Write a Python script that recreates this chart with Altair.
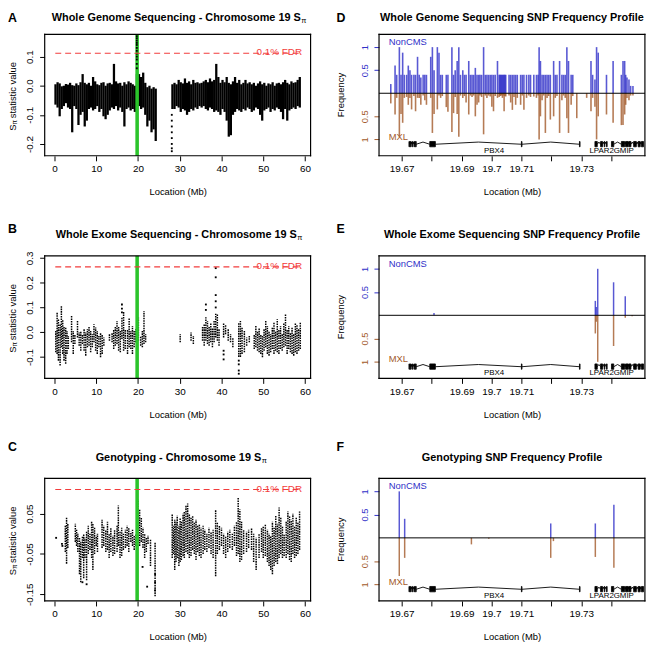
import altair as alt
import pandas as pd

FONT = "Liberation Sans"
BLUE = "#3030c8"
BROWN = "#a25a2a"
GREEN = "#2bc42b"
RED = "#f23c3c"
W = 269

# ---------------- chromosome-wide panels (A, B, C) ----------------
CHR_TICKS = [0, 10, 20, 30, 40, 50, 60]
CHR_DOMAIN = [-2.36, 61.36]
PBX4_MB = 19.8
FDR_START = 0.2
FDR_END = 59.3
FDR_LABEL = "0.1% FDR"

A_x = [0.25, 0.75, 1.25, 1.75, 2.25, 2.75, 3.25, 3.75, 4.25, 4.75, 5.25, 5.75, 6.25, 6.75,
       7.25, 7.75, 8.25, 8.75, 9.25, 9.75, 10.25, 10.75, 11.25, 11.75, 12.25, 12.75, 13.25,
       13.75, 14.25, 14.75, 15.25, 15.75, 16.25, 16.75, 17.25, 17.75, 18.25, 18.75, 19.25,
       19.75, 20.25, 20.75, 21.25, 21.75, 22.25, 22.75, 23.25, 23.75, 24.25,
       28.25, 28.75, 29.25, 29.75, 30.25, 30.75, 31.25, 31.75, 32.25, 32.75, 33.25, 33.75,
       34.25, 34.75, 35.25, 35.75, 36.25, 36.75, 37.25, 37.75, 38.25, 38.75, 39.25, 39.75,
       40.25, 40.75, 41.25, 41.75, 42.25, 42.75, 43.25, 43.75, 44.25, 44.75, 45.25, 45.75,
       46.25, 46.75, 47.25, 47.75, 48.25, 48.75, 49.25, 49.75, 50.25, 50.75, 51.25, 51.75,
       52.25, 52.75, 53.25, 53.75, 54.25, 54.75, 55.25, 55.75, 56.25, 56.75, 57.25, 57.75,
       58.25, 58.75]
A_hi = [0.005, 0.012, 0.008, -0.002, 0.0, 0.006, 0.004, 0.01, 0.002, 0.0, 0.008, 0.002, 0.012,
        0.04, 0.01, 0.005, 0.01, 0.0, 0.03, 0.015, 0.005, 0.002, 0.01, 0.012, 0.0, 0.008, 0.01,
        0.005, 0.075, 0.015, 0.008, 0.01, 0.0, 0.012, 0.005, 0.015, 0.01, 0.005, 0.0, 0.04,
        0.04, 0.03, 0.045, 0.01, -0.005, 0.0, -0.01, -0.005, -0.01,
        0.005, 0.01, 0.005, 0.02, 0.012, 0.008, 0.025, 0.01, 0.015, 0.005, 0.02, 0.01, 0.012,
        0.008, 0.01, 0.015, 0.02, 0.012, 0.025, 0.015, 0.02, 0.075, 0.03, 0.01, 0.02, 0.012,
        0.03, 0.01, 0.005, 0.015, 0.03, 0.01, 0.02, 0.005, 0.01, 0.02, 0.008, 0.012, 0.005,
        0.01, 0.0, 0.008, 0.015, 0.005, 0.01, 0.0, 0.008, 0.005, 0.012, 0.0, 0.008, 0.01,
        0.005, 0.012, 0.02, 0.01, 0.005, 0.015, 0.01, 0.012, 0.02, 0.03]
A_lo = [-0.065, -0.075, -0.105, -0.08, -0.07, -0.06, -0.075, -0.08, -0.16, -0.07, -0.08, -0.135,
        -0.10, -0.09, -0.14, -0.12, -0.08, -0.075, -0.085, -0.08, -0.07, -0.09, -0.08, -0.105,
        -0.115, -0.10, -0.085, -0.075, -0.08, -0.07, -0.085, -0.075, -0.09, -0.14, -0.08,
        -0.075, -0.085, -0.08, -0.09, -0.08, -0.07, -0.08, -0.075, -0.10, -0.14, -0.12, -0.16,
        -0.15, -0.19,
        -0.08, -0.08, -0.07, -0.075, -0.09, -0.08, -0.085, -0.10, -0.09, -0.08, -0.085, -0.075,
        -0.08, -0.07, -0.075, -0.07, -0.08, -0.085, -0.075, -0.08, -0.09, -0.085, -0.09, -0.10,
        -0.08, -0.09, -0.12, -0.175, -0.17, -0.10, -0.09, -0.08, -0.085, -0.09, -0.08, -0.085,
        -0.075, -0.08, -0.09, -0.085, -0.075, -0.08, -0.10, -0.12, -0.085, -0.08, -0.075, -0.09,
        -0.08, -0.085, -0.075, -0.08, -0.09, -0.115, -0.08, -0.12, -0.085, -0.08, -0.075, -0.08,
        -0.07, -0.075]
A_pt_x = [28.1, 28.1, 28.1, 28.1, 28.1, 28.1, 28.1, 28.1,
          19.72, 19.72, 19.72, 19.72, 19.72, 19.72, 19.72, 19.72, 19.72, 19.72, 19.72, 19.72]
A_pt_y = [-0.10, -0.12, -0.14, -0.16, -0.18, -0.20, -0.215, -0.225,
          0.17, 0.163, 0.155, 0.147, 0.14, 0.13, 0.12, 0.11, 0.10, 0.09, 0.075, 0.06]

B_x = [0.32, 0.64, 0.95, 1.35, 1.66, 1.98, 2.29, 2.69, 3.0, 3.32, 4.1, 4.5, 4.89, 5.52, 5.92,
       6.31, 6.7, 7.1, 7.49, 7.89, 8.28, 8.67, 9.07, 9.46, 9.86, 10.25, 10.64, 11.04, 11.43,
       11.83, 13.17, 13.8, 14.19, 14.58, 14.98, 15.37, 15.77, 16.16, 16.56, 16.95, 17.5, 17.89,
       18.29, 18.68, 19.08, 19.47, 20.1, 20.65, 21.05, 21.44, 21.83, 30.11, 32.71, 33.26,
       35.47, 35.86, 36.26, 36.65, 37.04, 37.44, 37.83, 38.23, 38.62, 39.01, 39.41, 40.51,
       40.98, 41.61, 42.17, 42.72, 44.14, 44.53, 44.92, 45.48, 46.03, 46.66, 47.84, 48.23,
       48.63, 49.02, 49.42, 49.81, 50.2, 50.6, 50.99, 51.39, 51.78, 52.17, 52.57, 52.96, 53.36,
       53.75, 54.14, 54.54, 54.93, 55.33, 55.72, 56.11, 56.51, 56.9, 57.3, 57.69, 58.08, 58.48,
       58.87]
B_lo = [-0.081, -0.088, -0.115, -0.135, -0.061, -0.088, -0.115, -0.128, -0.088, -0.068, -0.041,
        -0.088, -0.048, -0.021, -0.055, -0.075, -0.048, -0.075, -0.095, -0.061, -0.055, -0.081,
        -0.061, -0.041, -0.075, -0.088, -0.061, -0.101, -0.088, -0.055, -0.035, -0.041, -0.068,
        -0.055, -0.048, -0.075, -0.081, -0.028, -0.075, -0.068, -0.088, -0.061, -0.068, -0.088,
        -0.061, -0.041, -0.035, -0.055, -0.061, -0.048, -0.041, -0.041, -0.035, -0.048, -0.035,
        -0.055, -0.035, -0.048, -0.055, -0.041, -0.061, -0.041, -0.021, -0.035, -0.055, -0.021,
        -0.008, -0.035, -0.041, -0.061, -0.100, -0.100, -0.088, -0.081, -0.055, -0.041, -0.068,
        -0.061, -0.075, -0.081, -0.088, -0.101, -0.075, -0.061, -0.088, -0.095, -0.081, -0.068,
        -0.088, -0.075, -0.081, -0.088, -0.068, -0.075, -0.061, -0.055, -0.088, -0.068, -0.081,
        -0.088, -0.095, -0.081, -0.088, -0.075, -0.068]
B_hi = [0.005, 0.079, 0.052, 0.032, 0.105, 0.052, 0.025, 0.019, 0.005, -0.015, 0.065, 0.005,
        -0.008, 0.045, -0.001, 0.005, -0.008, 0.012, -0.001, 0.012, 0.025, 0.005, -0.008, 0.032,
        0.019, 0.005, -0.015, -0.001, -0.008, -0.021, -0.008, -0.001, 0.012, 0.025, 0.045, 0.025,
        0.005, 0.06, 0.085, 0.012, 0.012, 0.059, 0.005, 0.025, 0.005, 0.012, 0.059, -0.015, 0.005,
        0.085, -0.008, -0.008, -0.001, -0.015, 0.025, 0.032, 0.06, 0.045, 0.025, 0.039, 0.019,
        0.045, 0.075, 0.072, 0.012, 0.039, 0.032, 0.012, -0.008, -0.021, 0.039, 0.045, 0.019,
        0.005, -0.021, -0.015, -0.008, 0.025, 0.005, 0.019, -0.008, -0.015, 0.012, 0.045, 0.025,
        0.005, -0.008, 0.019, 0.039, 0.005, 0.052, 0.012, 0.025, -0.008, 0.039, 0.072, 0.012,
        0.025, -0.001, 0.019, -0.008, 0.039, 0.032, 0.012, 0.039]
B_pt_x = [38.62, 38.62, 38.62, 38.62, 38.62, 16.16, 16.16, 16.16, 36.26, 36.26,
          44.14, 44.14, 44.14, 44.14, 40.51, 40.51, 40.51]
B_pt_y = [0.259, 0.222, 0.15, 0.125, 0.10, 0.112, 0.095, 0.08, 0.112, 0.09,
          -0.115, -0.13, -0.155, -0.168, -0.075, -0.09, -0.11]

C_x = [2.6, 2.9, 3.2, 5.0, 5.3, 5.6, 6.0, 6.3, 6.7, 7.0, 7.3, 7.7, 8.1, 8.5, 8.9, 9.2, 9.6,
       10.0, 10.3, 11.4, 11.8, 12.3, 12.7, 13.1, 13.5, 14.0, 14.4, 15.0, 15.3, 15.7, 16.1, 16.5,
       17.0, 17.4, 17.8, 18.3, 18.7, 19.1, 19.5, 20.0, 20.4, 20.8, 21.2, 21.6, 22.0, 22.4, 23.0,
       24.1, 28.2, 28.5, 28.8, 29.1, 29.4, 29.8, 30.1, 30.4, 30.8, 31.1, 31.5, 31.9, 32.3, 32.7,
       33.1, 33.5, 33.9, 34.3, 34.7, 35.1, 35.6, 36.0, 36.5, 37.0, 37.5, 38.0, 38.6, 39.0, 39.5,
       40.0, 40.5, 41.0, 41.5, 42.0, 42.6, 43.1, 43.6, 44.0, 44.4, 44.8, 45.3, 46.0, 46.5, 47.2,
       47.7, 48.3, 49.0, 49.6, 50.0, 50.5, 51.0, 51.4, 51.8, 52.2, 52.6, 53.0, 53.4, 53.8, 54.2,
       54.6, 55.0, 55.5, 55.9, 56.3, 56.7, 57.1, 57.5, 57.9, 58.3, 58.7]
C_lo = [-0.045, -0.074, -0.035, -0.02, -0.03, -0.045, -0.10, -0.12, -0.06, -0.11, -0.06, -0.115,
        -0.05, -0.04, -0.06, -0.09, -0.05, -0.03, -0.045, -0.035, -0.03, -0.045, -0.04, -0.06,
        -0.045, -0.055, -0.05, -0.045, -0.03, -0.06, -0.055, -0.04, -0.035, -0.03, -0.045, -0.02,
        -0.03, -0.04, -0.03, -0.02, -0.03, -0.02, -0.035, -0.06, -0.045, -0.025, -0.08, -0.155,
        -0.06, -0.05, -0.09, -0.07, -0.06, -0.08, -0.07, -0.065, -0.055, -0.06, -0.045, -0.05,
        -0.06, -0.055, -0.04, -0.05, -0.065, -0.045, -0.055, -0.06, -0.05, -0.04, -0.045, -0.035,
        -0.05, -0.06, -0.105, -0.05, -0.04, -0.03, -0.05, -0.06, -0.045, -0.035, -0.04, -0.03,
        -0.055, -0.05, -0.07, -0.065, -0.05, -0.045, -0.035, -0.04, -0.07, -0.09, -0.06, -0.045,
        -0.06, -0.055, -0.07, -0.08, -0.09, -0.10, -0.08, -0.07, -0.075, -0.06, -0.05, -0.06,
        -0.055, -0.06, -0.05, -0.065, -0.07, -0.05, -0.06, -0.055, -0.05, -0.04]
C_hi = [0.02, 0.04, 0.025, 0.025, 0.01, 0.0, -0.01, -0.02, -0.005, 0.0, -0.01, 0.005, 0.02, 0.0,
        0.03, 0.025, 0.015, -0.005, 0.0, 0.035, 0.02, 0.01, 0.03, 0.0, 0.015, -0.005, 0.01, 0.02,
        0.07, 0.005, 0.015, 0.0, 0.01, 0.02, 0.015, 0.005, 0.01, -0.005, 0.0, 0.085, 0.06, 0.04,
        0.015, 0.0, -0.01, -0.005, -0.015, -0.02, 0.05, 0.02, 0.035, 0.03, 0.045, 0.02, 0.04,
        0.03, 0.05, 0.055, 0.07, 0.075, 0.05, 0.04, 0.045, 0.03, 0.035, 0.02, 0.025, 0.015, 0.02,
        0.01, 0.0, 0.015, 0.005, 0.01, 0.06, 0.03, 0.02, 0.015, 0.0, -0.005, 0.005, 0.01, 0.0,
        0.02, 0.03, 0.09, 0.06, 0.03, 0.01, 0.005, 0.01, 0.015, 0.0, -0.01, 0.0, 0.015, 0.02,
        0.025, 0.01, 0.0, -0.005, 0.03, 0.015, 0.045, 0.025, 0.065, 0.04, 0.02, 0.0, 0.03, 0.055,
        0.045, 0.035, 0.05, 0.02, 0.04, 0.03, 0.055]
C_pt_x = [0.4, 1.8, 1.9, 22.2, 21.1, 6.7, 7.7, 24.1, 24.1, 24.1]
C_pt_y = [-0.01, -0.025, -0.03, -0.131, -0.082, -0.12, -0.125, -0.14, -0.12, -0.10]

# ---------------- SNP frequency profiles (D, E, F) ----------------
REG_DOMAIN = [19.6624, 19.7513]
REG_TICKS = [19.67, 19.68, 19.69, 19.70, 19.71, 19.72, 19.73, 19.74]
REG_LABELS = ["19.67", "19.69", "19.7", "19.71", "19.73"]
FREQ_TICKS = [-1, -0.5, 0.5, 1]
FREQ_DOMAIN = [-1.357, 1.28]

D_pos = [19.66636, 19.66779, 19.66834, 19.66923, 19.66978, 19.67033, 19.67088, 19.67166,
         19.67221, 19.67276, 19.67331, 19.67408, 19.67464, 19.67530, 19.67585, 19.67640,
         19.67717, 19.67773, 19.67828, 19.67971, 19.68026, 19.68082, 19.68192, 19.68247,
         19.68302, 19.68358, 19.68490, 19.68545, 19.68678, 19.68733, 19.68788, 19.68854,
         19.68909, 19.68965, 19.69042, 19.69097, 19.69152, 19.69241, 19.69296, 19.69351,
         19.69406, 19.69461, 19.69517, 19.69572, 19.69616, 19.69671, 19.69737, 19.69793,
         19.69848, 19.69903, 19.69958, 19.70013, 19.70068, 19.70124, 19.70201, 19.70256,
         19.70284, 19.70311, 19.70339, 19.70366, 19.70394, 19.70422, 19.70449, 19.70477,
         19.70587, 19.70642, 19.70698, 19.70753, 19.70808, 19.70863, 19.70974, 19.71029,
         19.71084, 19.71172, 19.71249, 19.71305, 19.71415, 19.71503, 19.71558, 19.71592,
         19.71636, 19.71691, 19.71746, 19.71801, 19.71857, 19.71912, 19.71967, 19.72077,
         19.72132, 19.72188, 19.72276, 19.72353, 19.72408, 19.72464, 19.72519, 19.72574,
         19.72662, 19.72717, 19.72850, 19.73181, 19.73325, 19.73380, 19.73457, 19.73512,
         19.73567, 19.73843, 19.74064, 19.74340, 19.74395, 19.74450, 19.74484, 19.74528,
         19.74594, 19.74650, 19.74727]
D_noncms = [0.20, 0.60, 0.40, 1.00, 0.40, 0.88, 0.40, 0.40, 0.60, 0.50, 0.40, 0.40, 0.40, 0.79,
            0.40, 0.34, 0.40, 0.40, 0.40, 0.79, 1.00, 0.50, 1.00, 0.88, 0.40, 0.40, 0.40, 0.40,
            1.00, 0.40, 0.50, 0.70, 1.00, 0.40, 0.50, 0.40, 0.40, 0.70, 0.40, 0.40, 0.40, 0.55,
            0.40, 0.40, 0.40, 0.40, 1.00, 0.40, 0.40, 0.40, 0.40, 0.40, 0.40, 0.40, 0.70, 0.40,
            0.40, 0.40, 0.40, 0.40, 0.40, 0.40, 0.40, 0.40, 0.40, 0.40, 0.40, 0.40, 0.40, 0.40,
            0.40, 0.40, 0.40, 0.40, 0.40, 0.40, 0.40, 0.40, 0.40, 1.00, 0.70, 0.40, 0.40, 0.40,
            0.40, 0.40, 0.40, 0.70, 0.40, 0.40, 0.70, 0.40, 0.40, 0.40, 1.00, 0.70, 0.40, 0.40,
            0.00, 0.00, 0.70, 0.40, 0.30, 1.00, 0.88, 0.40, 0.70, 0.40, 0.70, 0.70, 0.40, 0.34,
            0.30, 0.16, 0.16]
D_mxl = [0.22, 0.46, 0.10, 0.93, 0.45, 0.64, 0.10, 0.08, 0.25, 0.10, 0.35, 0.06, 0.39, 0.10,
         0.10, 0.25, 0.05, 0.15, 0.25, 0.10, 0.86, 0.45, 0.35, 0.05, 0.10, 0.06, 0.30, 0.40,
         0.84, 0.43, 0.08, 0.45, 0.94, 0.05, 0.10, 0.06, 0.20, 0.46, 0.05, 0.08, 0.05, 0.50,
         0.25, 0.20, 0.05, 0.08, 0.89, 0.05, 0.10, 0.05, 0.07, 0.29, 0.39, 0.06, 0.10, 0.08,
         0.05, 0.06, 0.04, 0.10, 0.05, 0.39, 0.06, 0.07, 0.05, 0.20, 0.36, 0.08, 0.25, 0.10,
         0.25, 0.05, 0.36, 0.10, 0.05, 0.08, 0.07, 0.10, 0.05, 1.00, 0.50, 0.15, 0.05, 0.86,
         0.10, 0.06, 0.57, 0.50, 0.10, 0.06, 0.86, 0.15, 0.05, 0.10, 0.54, 0.86, 0.25, 0.06,
         0.54, 0.10, 0.39, 0.10, 0.29, 1.00, 0.50, 0.46, 0.64, 0.69, 0.69, 0.46, 0.25, 0.10,
         0.15, 0.05, 0.05]

E_pos = [19.6808, 19.7347, 19.7350, 19.7355, 19.7408, 19.7447, 19.7470]
E_noncms = [0.05, 0.31, 0.18, 1.00, 0.71, 0.41, 0.00]
E_mxl = [0.00, 0.39, 0.14, 1.00, 0.66, 0.05, 0.02]

F_pos = [19.6692, 19.6710, 19.6933, 19.6991, 19.7198, 19.7207, 19.7347, 19.7409]
F_noncms = [1.00, 0.41, 0.00, 0.00, 0.31, 0.00, 0.31, 0.71]
F_mxl = [0.82, 0.43, 0.14, 0.02, 0.43, 0.07, 0.41, 0.64]

EXON_START = [19.67243, 19.67287, 19.67342, 19.67408, 19.67453, 19.67938, 19.7100, 19.7294,
              19.73457, 19.73645, 19.73767, 19.73843, 19.74009, 19.7434, 19.7448, 19.7459,
              19.7475, 19.7490, 19.7501]
EXON_END = [19.67265, 19.6731, 19.67364, 19.6743, 19.67486, 19.68126, 19.7102, 19.7296,
            19.73535, 19.73712, 19.73789, 19.73865, 19.74086, 19.7445, 19.7457, 19.7466,
            19.7484, 19.7497, 19.7508]
INTRON_START = [19.67265, 19.6731, 19.67364, 19.6743, 19.67486, 19.68126, 19.7102, 19.73535,
                19.73712, 19.73789, 19.74086, 19.7445, 19.7457, 19.7466, 19.7484, 19.7497]
INTRON_END = [19.67287, 19.67342, 19.67408, 19.67453, 19.67938, 19.7100, 19.7294, 19.73645,
              19.73767, 19.73843, 19.7434, 19.7448, 19.7459, 19.7475, 19.7490, 19.7501]
GENE_NAMES = ["PBX4", "LPAR2", "GMIP"]
GENE_LABEL_POS = [19.7009, 19.7368, 19.7442]
POP_NAMES = ["NonCMS", "MXL"]
POP_LABEL_Y = [1.105, -0.94]
POP_LABEL_X = 19.6657

MINUS_FIX = "replace(format(datum.value, '{f}'), '\u2212', '-')"


def txt(s, **kw):
    return alt.Chart(pd.DataFrame({"t": [s]})).mark_text(font=FONT, **kw)


def frame(h):
    # plot box as a thin filled outline made of four narrow rectangles (pixel layout)
    one = pd.DataFrame({"t": [0]})
    st = dict(color="#000000", opacity=1)
    return [
        alt.Chart(one).mark_rect(**st).encode(x=alt.value(-0.5), x2=alt.value(0.7),
                                              y=alt.value(-0.5), y2=alt.value(h + 0.5)),
        alt.Chart(one).mark_rect(**st).encode(x=alt.value(W - 0.7), x2=alt.value(W + 0.5),
                                              y=alt.value(-0.5), y2=alt.value(h + 0.5)),
        alt.Chart(one).mark_rect(**st).encode(x=alt.value(-0.5), x2=alt.value(W + 0.5),
                                              y=alt.value(-0.5), y2=alt.value(0.7)),
        alt.Chart(one).mark_rect(**st).encode(x=alt.value(-0.5), x2=alt.value(W + 0.5),
                                              y=alt.value(h - 0.7), y2=alt.value(h + 0.5)),
    ]


def heading(title_main, end_x, ty, letter, lx, ly, align):
    return [
        txt(title_main, fontSize=11, fontWeight="bold", align=align, baseline="middle")
        .encode(x=alt.value(end_x), y=alt.value(ty), text="t:N"),
        txt(letter, fontSize=12.5, fontWeight="bold", align="left", baseline="top")
        .encode(x=alt.value(lx), y=alt.value(ly), text="t:N"),
    ]


def scatter_panel(letter, title_main, end_x, ty, ly, h, ydom, yticks, yfmt, fdr,
                  bx, blo, bhi, bw, dash, px, py):
    xs = alt.Scale(domain=CHR_DOMAIN, nice=False, zero=False)
    ys = alt.Scale(domain=ydom, nice=False, zero=False)
    xax = alt.Axis(values=CHR_TICKS, title="Location (Mb)", format="d", labelFlush=False,
                   labelOverlap=False, labelPadding=3, titlePadding=13)
    yax = alt.Axis(values=yticks, title=None, labelExpr=MINUS_FIX.format(f=yfmt), labelAngle=270,
                   labelAlign="center", labelBaseline="bottom", labelPadding=5,
                   labelOverlap=False, labelFlush=False)

    def X(f):
        return alt.X(f"{f}:Q", scale=xs, axis=xax)

    def Y(f):
        return alt.Y(f"{f}:Q", scale=ys, axis=yax)

    bins = pd.DataFrame({"x": bx, "lo": blo, "hi": bhi})
    pts = pd.DataFrame({"x": px, "y": py})
    mk = dict(color="black", strokeWidth=bw)
    if dash:
        mk["strokeDash"] = dash
    layers = [
        alt.Chart(bins).mark_rule(**mk).encode(x=X("x"), y=Y("lo"), y2="hi"),
        alt.Chart(pd.DataFrame({"g": [PBX4_MB]})).mark_rule(color=GREEN, strokeWidth=3.6)
        .encode(x=X("g")),
        alt.Chart(pts).mark_square(size=3.5, color="black", opacity=1).encode(x=X("x"), y=Y("y")),
        alt.Chart(pd.DataFrame({"a": [FDR_START], "b": [FDR_END], "f": [fdr]}))
        .mark_rule(color=RED, strokeDash=[6, 4], strokeWidth=1.1)
        .encode(x=X("a"), x2="b", y=Y("f")),
        alt.Chart(pd.DataFrame({"b": [FDR_END], "f": [fdr], "t": [FDR_LABEL]}))
        .mark_text(font=FONT, fontSize=10, color=RED, align="right", baseline="bottom", dy=4)
        .encode(x=X("b"), y=Y("f"), text="t:N"),
        txt("\u03c0", fontSize=7.5, align="left", baseline="middle")
        .encode(x=alt.value(end_x + 0.5), y=alt.value(ty + 3), text="t:N"),
        txt("S", fontSize=9.5, angle=270, align="left", baseline="middle")
        .encode(x=alt.value(-32), y=alt.value(h / 2 + 36), text="t:N"),
        txt("\u03c0", fontSize=6.5, angle=270, align="left", baseline="middle")
        .encode(x=alt.value(-29.5), y=alt.value(h / 2 + 29.7), text="t:N"),
        txt("statistic value", fontSize=9.5, angle=270, align="left", baseline="middle")
        .encode(x=alt.value(-32), y=alt.value(h / 2 + 23.5), text="t:N"),
    ] + heading(title_main, end_x, ty, letter, -37, ly, "right") + frame(h)
    return alt.layer(*layers).properties(width=W, height=h)


def freq_panel(letter, title_main, ty, ly, h, pos, nc, mxl, bw):
    xs = alt.Scale(domain=REG_DOMAIN, nice=False, zero=False)
    ys = alt.Scale(domain=FREQ_DOMAIN, nice=False, zero=False)
    lab = ("indexof(" + str(REG_LABELS) + ", format(datum.value, '.2~f')) >= 0 ? "
           "format(datum.value, '.2~f') : ''")
    xax = alt.Axis(values=REG_TICKS, title="Location (Mb)", labelExpr=lab, labelFlush=False,
                   labelOverlap=False, labelPadding=3, titlePadding=13)
    cond = {"condition": {"test": "datum.value > 0", "value": BLUE}, "value": BROWN}
    yax = alt.Axis(values=FREQ_TICKS, title=None, labelExpr="'' + abs(datum.value)",
                   labelAngle=270, labelAlign="center", labelBaseline="bottom", labelPadding=5,
                   labelOverlap=False, labelFlush=False, labelColor=cond, tickColor=cond,
                   labelFontSize=9.5)

    def X(f):
        return alt.X(f"{f}:Q", scale=xs, axis=xax)

    def Y(f):
        return alt.Y(f"{f}:Q", scale=ys, axis=yax)

    snps = pd.DataFrame({"pos": pos, "nc": nc, "mxl": mxl})
    exons = pd.DataFrame({"s": EXON_START, "e": EXON_END})
    introns = pd.DataFrame({"s": INTRON_START, "e": INTRON_END})
    genes = pd.DataFrame({"p": GENE_LABEL_POS, "n": GENE_NAMES})
    pops = pd.DataFrame({"n": POP_NAMES, "y": POP_LABEL_Y, "x": [POP_LABEL_X] * 2})

    layers = [
        alt.Chart(snps).transform_filter("datum.nc > 0").transform_calculate(z="0")
        .mark_rule(color=BLUE, strokeWidth=bw, opacity=0.8)
        .encode(x=X("pos"), y=Y("nc"), y2="z:Q"),
        alt.Chart(snps).transform_filter("datum.mxl > 0")
        .transform_calculate(neg="-datum.mxl", z="0")
        .mark_rule(color=BROWN, strokeWidth=bw, opacity=0.8)
        .encode(x=X("pos"), y=Y("neg"), y2="z:Q"),
        alt.Chart(pd.DataFrame({"z": [0]})).mark_rule(color="black", strokeWidth=1)
        .encode(y=Y("z")),
        alt.Chart(exons).transform_calculate(t="-1.045", b="-1.16")
        .mark_rect(color="black", stroke="black", strokeWidth=0.8, clip=True)
        .encode(x=X("s"), x2="e", y=Y("t"), y2="b:Q"),
        alt.Chart(introns).transform_calculate(m="(datum.s + datum.e) / 2", b="-1.105", p="-1.058")
        .mark_rule(color="black", strokeWidth=0.9, clip=True)
        .encode(x=X("s"), x2="m:Q", y=Y("b"), y2="p:Q"),
        alt.Chart(introns).transform_calculate(m="(datum.s + datum.e) / 2", b="-1.105", p="-1.058")
        .mark_rule(color="black", strokeWidth=0.9, clip=True)
        .encode(x=X("m"), x2="e:Q", y=Y("p"), y2="b:Q"),
        alt.Chart(genes).transform_calculate(gy="-1.25")
        .mark_text(font=FONT, fontSize=8, baseline="middle", align="center")
        .encode(x=X("p"), y=Y("gy"), text="n:N"),
        alt.Chart(pops).mark_text(font=FONT, fontSize=9.5, align="left", baseline="middle")
        .encode(x=X("x"), y=Y("y"), text="n:N",
                color=alt.Color("n:N", scale=alt.Scale(domain=POP_NAMES, range=[BLUE, BROWN]),
                                legend=None)),
        txt("Frequency", fontSize=9.5, angle=270, align="center", baseline="middle")
        .encode(x=alt.value(-38), y=alt.value(h / 2), text="t:N"),
    ] + heading(title_main, W / 2, ty, letter, -43, ly, "center") + frame(h)
    return alt.layer(*layers).properties(width=W, height=h)


A = scatter_panel("A", "Whole Genome Sequencing - Chromosome 19 S", 259, -16.5, -22, 123,
                  [-0.241, 0.177], [-0.2, -0.1, 0.0, 0.1], ".1f", 0.1115,
                  A_x, A_lo, A_hi, 2.3, None, A_pt_x, A_pt_y)
B = scatter_panel("B", "Whole Exome Sequencing - Chromosome 19 S", 255, -21, -33, 124,
                  [-0.187, 0.309], [-0.1, 0.0, 0.1, 0.2, 0.3], ".1f", 0.264,
                  B_x, B_lo, B_hi, 1.5, [1.6, 0.9], B_pt_x, B_pt_y)
C = scatter_panel("C", "Genotyping - Chromosome 19 S", 219, -21, -38, 124,
                  [-0.1665, 0.1375], [-0.15, -0.05, 0.05], ".2f", 0.1097,
                  C_x, C_lo, C_hi, 1.5, [1.6, 0.9], C_pt_x, C_pt_y)
D = freq_panel("D", "Whole Genome Sequencing SNP Frequency Profile", -16.5, -22, 123,
               D_pos, D_noncms, D_mxl, 1.6)
E = freq_panel("E", "Whole Exome Sequencing SNP Frequency Profile", -21, -33, 124,
               E_pos, E_noncms, E_mxl, 1.5)
F = freq_panel("F", "Genotyping SNP Frequency Profile", -21, -38, 124,
               F_pos, F_noncms, F_mxl, 1.5)

chart = alt.concat(A, D, B, E, C, F, columns=2, spacing={"row": 101, "column": 69},
                   bounds="flush").properties(padding=0)
chart = chart.configure_view(strokeWidth=0).configure_axis(
    domain=False, grid=False, tickColor="black", tickSize=5, tickWidth=1,
    labelFont=FONT, titleFont=FONT, labelFontSize=10, titleFontSize=9.5,
    titleFontWeight="normal", labelColor="black", titleColor="black")

chart.save("out.html", embed_options={"renderer": "svg", "actions": False})
